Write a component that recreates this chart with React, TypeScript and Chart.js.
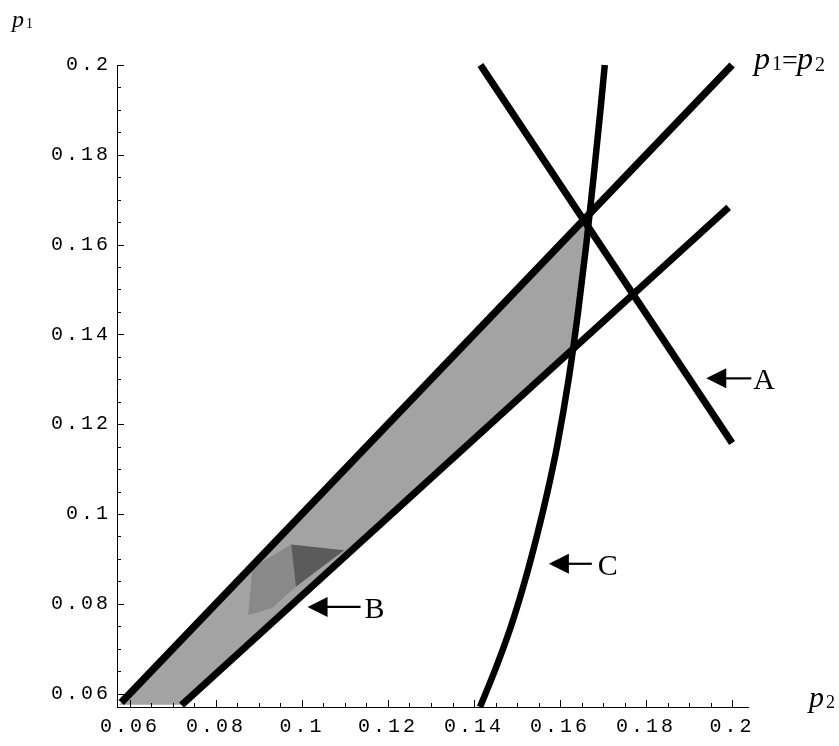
import React, { useEffect, useRef } from 'react';
import { Chart, registerables } from 'chart.js';

Chart.register(...registerables);

// ---- axis ranges & ticks ----
const X_MIN = 0.057;
const X_MAX = 0.2037;
const Y_MIN = 0.057;
const Y_MAX = 0.2;
const TICK_STEP = 0.005;
const MAJOR_STEP = 0.02;

// ---- curves (p2 on x, p1 on y) ----
const DIAG_P2 = [0.058, 0.2];
const DIAG_P1 = [0.058, 0.2];

const LOWER_P2 = [0.072, 0.1992];
const LOWER_P1 = [0.0574, 0.1683];

const A_P2 = [0.1415, 0.2];
const A_P1 = [0.2, 0.1158];

const C_P1 = [0.057, 0.066, 0.075, 0.085, 0.095, 0.105, 0.115, 0.13, 0.145, 0.16, 0.175, 0.19, 0.2];
const C_P2 = [0.1414, 0.1452, 0.1486, 0.1518, 0.1546, 0.1571, 0.1593, 0.162, 0.1642, 0.1661, 0.1678, 0.1694, 0.1704];

// shaded region (between p1=p2, lower line and curve C)
const SHADE_P2 = [0.0575, 0.1666, 0.1661, 0.1642, 0.1629, 0.0722];
const SHADE_P1 = [0.0575, 0.1666, 0.16, 0.145, 0.137, 0.0575];

// darker patches inside the shaded region
const PATCH1_P2 = [0.0975, 0.1098, 0.0986];
const PATCH1_P1 = [0.0932, 0.0919, 0.0838];
const PATCH2_P2 = [0.0975, 0.0986, 0.093, 0.0875, 0.0885];
const PATCH2_P1 = [0.0932, 0.0838, 0.079, 0.0775, 0.088];

// arrow annotations
const ARROW_LABELS = ['A', 'B', 'C'];
const ARROW_TIP_P2 = [0.194, 0.1013, 0.1574];
const ARROW_TIP_P1 = [0.1302, 0.0793, 0.0889];
const ARROW_SHAFT_PX = [45, 53, 43];
const ARROW_TEXT_GAP_PX = [2, 4, 6];

const zip = (xs: number[], ys: number[]) => xs.map((x, i) => ({ x, y: ys[i] }));

const isMult = (v: number, step: number) => {
  const r = v / step;
  return Math.abs(r - Math.round(r)) < 1e-6;
};

const fmtTick = (v: number) => (isMult(v, MAJOR_STEP) ? String(Number(v.toFixed(2))) : '');

const SERIF = '"Liberation Serif", "Times New Roman", serif';

function drawParts(
  ctx: CanvasRenderingContext2D,
  parts: { t: string; font: string; dy: number; dx: number }[],
  x: number,
  y: number
) {
  let cx = x;
  for (const p of parts) {
    ctx.font = p.font;
    cx += p.dx;
    ctx.fillText(p.t, cx, y + p.dy);
    cx += ctx.measureText(p.t).width;
  }
}

const spacingPlugin = {
  id: 'tickSpacing',
  beforeDraw(chart: any) {
    chart.ctx.letterSpacing = '3px';
  },
  beforeDatasetsDraw(chart: any) {
    chart.ctx.letterSpacing = '0px';
  },
};

const decorPlugin = {
  id: 'decor',
  afterDraw(chart: any) {
    const ctx: CanvasRenderingContext2D = chart.ctx;
    const xs = chart.scales.x;
    const ys = chart.scales.y;
    const { left, bottom } = chart.chartArea;
    ctx.save();
    (ctx as any).letterSpacing = '0px';
    ctx.strokeStyle = '#000';
    ctx.lineWidth = 1;
    // inward ticks
    xs.ticks.forEach((t: any) => {
      if (!isMult(t.value, TICK_STEP)) return;
      const px = Math.round(xs.getPixelForValue(t.value)) + 0.5;
      const len = isMult(t.value, MAJOR_STEP) ? 7 : 4;
      ctx.beginPath();
      ctx.moveTo(px, bottom);
      ctx.lineTo(px, bottom - len);
      ctx.stroke();
    });
    ys.ticks.forEach((t: any) => {
      if (!isMult(t.value, TICK_STEP)) return;
      const py = Math.round(ys.getPixelForValue(t.value)) + 0.5;
      const len = isMult(t.value, MAJOR_STEP) ? 7 : 4;
      ctx.beginPath();
      ctx.moveTo(left, py);
      ctx.lineTo(left + len, py);
      ctx.stroke();
    });

    // arrows with labels
    ctx.fillStyle = '#000';
    ARROW_LABELS.forEach((lab, i) => {
      const tx = xs.getPixelForValue(ARROW_TIP_P2[i]);
      const ty = ys.getPixelForValue(ARROW_TIP_P1[i]);
      ctx.beginPath();
      ctx.moveTo(tx, ty);
      ctx.lineTo(tx + 20, ty - 10);
      ctx.lineTo(tx + 20, ty + 10);
      ctx.closePath();
      ctx.fill();
      ctx.lineWidth = 2.2;
      ctx.beginPath();
      ctx.moveTo(tx + 18, ty);
      ctx.lineTo(tx + ARROW_SHAFT_PX[i], ty);
      ctx.stroke();
      ctx.font = `30px ${SERIF}`;
      ctx.textAlign = 'left';
      ctx.textBaseline = 'alphabetic';
      ctx.fillText(lab, tx + ARROW_SHAFT_PX[i] + ARROW_TEXT_GAP_PX[i], ty + 11);
    });

    // axis names
    ctx.textAlign = 'left';
    ctx.textBaseline = 'alphabetic';
    drawParts(
      ctx,
      [
        { t: 'p', font: `italic 24px ${SERIF}`, dy: 0, dx: 0 },
        { t: '1', font: `14px ${SERIF}`, dy: 1, dx: 2 },
      ],
      12,
      27
    );
    drawParts(
      ctx,
      [
        { t: 'p', font: `italic 30px ${SERIF}`, dy: 0, dx: 0 },
        { t: '2', font: `18px ${SERIF}`, dy: 1, dx: 2 },
      ],
      809,
      707
    );
    const ex = xs.getPixelForValue(DIAG_P2[1]);
    const ey = ys.getPixelForValue(DIAG_P1[1]);
    drawParts(
      ctx,
      [
        { t: 'p', font: `italic 32px ${SERIF}`, dy: 0, dx: 0 },
        { t: '1', font: `20px ${SERIF}`, dy: 1, dx: 2 },
        { t: '=', font: `28px ${SERIF}`, dy: 0, dx: 0 },
        { t: 'p', font: `italic 32px ${SERIF}`, dy: 0, dx: -1 },
        { t: '2', font: `20px ${SERIF}`, dy: 2, dx: 2 },
      ],
      ex + 22,
      ey + 4
    );
    ctx.restore();
  },
};

export default function App() {
  const ref = useRef<HTMLCanvasElement | null>(null);

  useEffect(() => {
    document.body.style.margin = '0';
    const canvas = ref.current;
    if (!canvas) return;

    const lineDs = (data: any[], width: number, extra: any = {}) => ({
      data,
      borderColor: '#000',
      borderWidth: width,
      backgroundColor: 'transparent',
      pointRadius: 0,
      fill: false,
      tension: 0,
      clip: false,
      borderCapStyle: 'butt',
      borderJoinStyle: 'round',
      order: 0,
      ...extra,
    });

    const chart = new Chart(canvas, {
      type: 'line',
      data: {
        datasets: [
          lineDs(zip(DIAG_P2, DIAG_P1), 7.5),
          lineDs(zip(LOWER_P2, LOWER_P1), 7),
          lineDs(zip(A_P2, A_P1), 7),
          lineDs(zip(C_P2, C_P1), 6.5, { cubicInterpolationMode: 'monotone' }),
          {
            data: zip(PATCH1_P2, PATCH1_P1),
            borderWidth: 0,
            borderColor: 'transparent',
            backgroundColor: 'rgba(20,20,20,0.5)',
            pointRadius: 0,
            fill: 'shape',
            clip: false,
            order: 5,
          },
          {
            data: zip(PATCH2_P2, PATCH2_P1),
            borderWidth: 0,
            borderColor: 'transparent',
            backgroundColor: 'rgba(20,20,20,0.18)',
            pointRadius: 0,
            fill: 'shape',
            clip: false,
            order: 6,
          },
          {
            data: zip(SHADE_P2, SHADE_P1),
            borderWidth: 0,
            borderColor: 'transparent',
            backgroundColor: '#a3a3a3',
            pointRadius: 0,
            fill: 'shape',
            clip: false,
            order: 10,
          },
        ] as any,
      },
      options: {
        animation: false,
        responsive: false,
        events: [],
        layout: { padding: { top: 65, right: 91, left: 0, bottom: 0 } },
        plugins: {
          legend: { display: false },
          tooltip: { enabled: false },
        },
        scales: {
          x: {
            type: 'linear',
            min: X_MIN,
            max: X_MAX,
            afterFit: (s: any) => {
              s.height = 39;
            },
            grid: { display: false, drawTicks: false },
            border: { display: true, color: '#000', width: 1 },
            ticks: {
              stepSize: TICK_STEP,
              includeBounds: false,
              autoSkip: false,
              maxRotation: 0,
              minRotation: 0,
              padding: 8,
              color: '#000',
              font: { family: '"Liberation Mono", monospace', size: 20 },
              callback: (v: any) => fmtTick(Number(v)),
            },
          },
          y: {
            type: 'linear',
            min: Y_MIN,
            max: Y_MAX,
            afterFit: (s: any) => {
              s.width = 117;
            },
            grid: { display: false, drawTicks: false },
            border: { display: true, color: '#000', width: 1 },
            ticks: {
              stepSize: TICK_STEP,
              includeBounds: false,
              autoSkip: false,
              padding: 6,
              color: '#000',
              font: { family: '"Liberation Mono", monospace', size: 20 },
              callback: (v: any) => fmtTick(Number(v)),
            },
          },
        },
      } as any,
      plugins: [spacingPlugin, decorPlugin] as any,
    });

    return () => chart.destroy();
  }, []);

  return (
    <div style={{ width: 839, height: 746 }}>
      <canvas ref={ref} width={839} height={746} style={{ display: 'block' }} />
    </div>
  );
}
